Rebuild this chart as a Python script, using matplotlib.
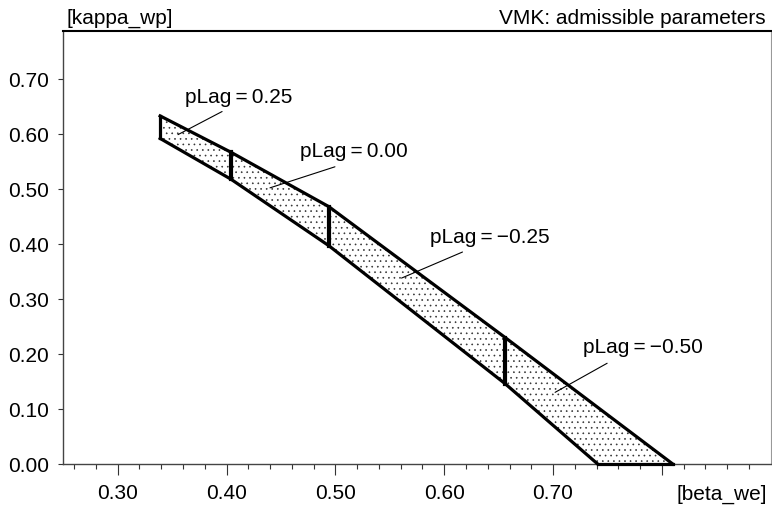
import matplotlib
matplotlib.use("Agg")
import matplotlib.pyplot as plt
import numpy as np

plt.rcParams['font.family'] = ['Liberation Sans', 'DejaVu Sans']
plt.rcParams['hatch.linewidth'] = 0.45

# ---- data ----
beta_upper = [0.339, 0.404, 0.494, 0.656, 0.810]
kappa_upper = [0.633, 0.567, 0.468, 0.230, 0.000]
beta_lower = [0.339, 0.404, 0.494, 0.656, 0.741]
kappa_lower = [0.592, 0.518, 0.397, 0.146, 0.000]

plag_labels = ["pLag\u2009=\u20090.25", "pLag\u2009=\u20090.00",
               "pLag\u2009=\u2009\u22120.25", "pLag\u2009=\u2009\u22120.50"]
# label text anchor (left, centre) and leader line ends, in data units
label_pos = [(0.362, 0.666), (0.4676, 0.568), (0.5868, 0.412), (0.7274, 0.2115)]
leader_start = [(0.3959, 0.641), (0.4996, 0.5405), (0.6168, 0.3855), (0.7497, 0.1832)]
leader_end = [(0.3554, 0.599), (0.4399, 0.5022), (0.5608, 0.3381), (0.7019, 0.1303)]

xticks_major = [0.30, 0.40, 0.50, 0.60, 0.70, 0.80]
xtick_labels = ["0.30", "0.40", "0.50", "0.60", "0.70", ""]
yticks = [0.00, 0.10, 0.20, 0.30, 0.40, 0.50, 0.60, 0.70]
ytick_labels = ["0.00", "0.10", "0.20", "0.30", "0.40", "0.50", "0.60", "0.70"]

W, H = 772, 505
fig = plt.figure(figsize=(W / 100, H / 100), dpi=100)
ax = fig.add_axes([63.3 / W, 1 - 464 / H, (770.7 - 63.3) / W, (464 - 30.7) / H])
ax.set_xlim(0.25, 0.90)
ax.set_ylim(0.0, 0.788)

# filled admissible region with dot pattern
poly_x = list(beta_upper) + list(beta_lower[::-1])
poly_y = list(kappa_upper) + list(kappa_lower[::-1])
ax.fill(poly_x, poly_y, facecolor='white', edgecolor='#333333', hatch='...',
        linewidth=0, zorder=1)

lw = 2.3
kw = dict(color='black', solid_joinstyle='miter', solid_capstyle='projecting', zorder=3, clip_on=False)
ax.plot(beta_upper, kappa_upper, lw=lw, **kw)
ax.plot(beta_lower, kappa_lower, lw=lw, **kw)
# bottom edge along the axis
ax.plot([beta_lower[-1], beta_upper[-1]], [kappa_lower[-1], kappa_upper[-1]], lw=lw, **kw)
# left edge and dividers
for i in range(4):
    ax.plot([beta_upper[i], beta_lower[i]], [kappa_upper[i], kappa_lower[i]],
            lw=(lw if i == 0 else 3.0), **kw)

# labels with leader lines
for lab, (tx, ty), s, e in zip(plag_labels, label_pos, leader_start, leader_end):
    ax.text(tx, ty, lab, fontsize=15, ha='left', va='center', zorder=4)
    ax.annotate('', xy=e, xytext=s,
                arrowprops=dict(arrowstyle='-', lw=0.8, color='black',
                                shrinkA=0, shrinkB=0), zorder=4)

# axes styling
ax.set_xticks(xticks_major)
ax.set_xticklabels(xtick_labels)
minor = [v for v in np.round(np.arange(0.26, 0.90, 0.02), 2)
         if not np.any(np.isclose(v, xticks_major))]
ax.set_xticks(minor, minor=True)
ax.set_yticks(yticks)
ax.set_yticklabels(ytick_labels)
ax.tick_params(axis='x', which='major', direction='out', length=7.7, width=0.8,
               color='#333333', pad=7, labelsize=15)
ax.tick_params(axis='x', which='minor', direction='out', length=3.6, width=0.8,
               color='#333333')
ax.tick_params(axis='y', which='major', direction='out', length=3.6, width=0.8,
               color='#333333', pad=6.5, labelsize=15)

ax.spines['top'].set_color('black')
ax.spines['top'].set_linewidth(1.5)
ax.spines['right'].set_color('#999999')
ax.spines['right'].set_linewidth(0.8)
ax.spines['left'].set_color('#444444')
ax.spines['left'].set_linewidth(1.0)
ax.spines['bottom'].set_color('#444444')
ax.spines['bottom'].set_linewidth(1.0)

fig.text(67 / W, 1 - 23.5 / H, "[kappa_wp]", fontsize=15, ha='left', va='baseline')
fig.text(766 / W, 1 - 24 / H, "VMK: admissible parameters", fontsize=15,
         ha='right', va='baseline')
fig.text(767 / W, 1 - 500 / H, "[beta_we]", fontsize=15, ha='right', va='baseline')

fig.savefig("out.png", dpi=100)
